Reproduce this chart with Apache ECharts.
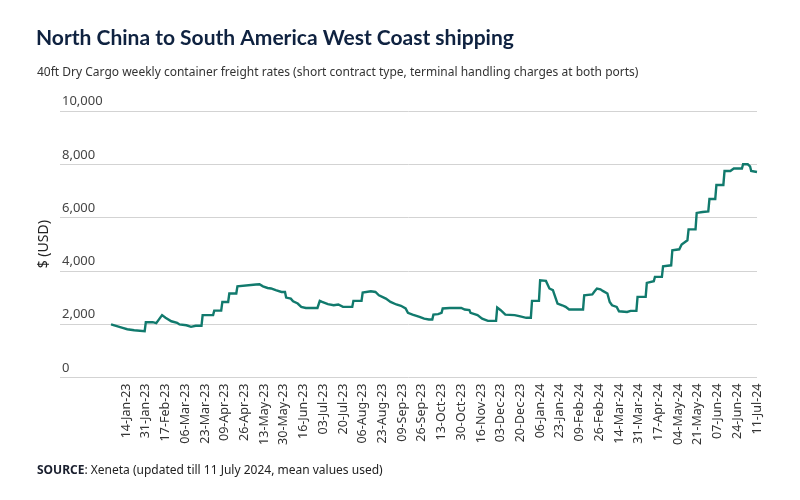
<!DOCTYPE html>
<html>
<head>
<meta charset="utf-8">
<script src="https://cdn.jsdelivr.net/npm/echarts@6/dist/echarts.min.js"></script>
<style>html,body{margin:0;padding:0;background:#fff}#chart{width:800px;height:500px}</style>
</head>
<body>
<div id="chart"></div>
<script>
// Breakpoints of the rate curve (date, USD per 40ft container)
var dates = [
 '2023-01-01','2023-01-11','2023-01-15','2023-01-21','2023-01-30','2023-01-31','2023-02-06','2023-02-09','2023-02-14','2023-02-17',
 '2023-02-22','2023-02-27','2023-03-01','2023-03-07','2023-03-11','2023-03-15','2023-03-20','2023-03-21','2023-03-30','2023-03-31',
 '2023-04-06','2023-04-07','2023-04-12','2023-04-13','2023-04-19','2023-04-20','2023-05-06','2023-05-09','2023-05-12','2023-05-16',
 '2023-05-19','2023-05-23','2023-05-28','2023-05-31','2023-06-01','2023-06-05','2023-06-07','2023-06-11','2023-06-14','2023-06-18',
 '2023-06-28','2023-06-30','2023-07-02','2023-07-07','2023-07-12','2023-07-16','2023-07-20','2023-07-28','2023-07-29','2023-08-05',
 '2023-08-06','2023-08-13','2023-08-17','2023-08-20','2023-08-26','2023-08-30','2023-09-04','2023-09-08','2023-09-12','2023-09-14',
 '2023-09-18','2023-09-24','2023-09-28','2023-10-02','2023-10-05','2023-10-06','2023-10-10','2023-10-13','2023-10-14','2023-10-20',
 '2023-10-30','2023-11-02','2023-11-06','2023-11-07','2023-11-13','2023-11-17','2023-11-22','2023-11-29','2023-11-30','2023-12-03',
 '2023-12-07','2023-12-15','2023-12-19','2023-12-25','2023-12-29','2023-12-30','2024-01-05','2024-01-06','2024-01-11','2024-01-14',
 '2024-01-17','2024-01-21','2024-01-25','2024-01-28','2024-01-31','2024-02-12','2024-02-13','2024-02-20','2024-02-22','2024-02-24',
 '2024-02-27','2024-02-29','2024-03-04','2024-03-06','2024-03-08','2024-03-12','2024-03-14','2024-03-21','2024-03-24','2024-03-29',
 '2024-03-30','2024-04-06','2024-04-07','2024-04-13','2024-04-14','2024-04-20','2024-04-21','2024-04-28','2024-04-29','2024-05-05',
 '2024-05-07','2024-05-12','2024-05-13','2024-05-19','2024-05-20','2024-05-25','2024-05-30','2024-05-31','2024-06-05','2024-06-06',
 '2024-06-12','2024-06-13','2024-06-18','2024-06-21','2024-06-28','2024-06-29','2024-07-03','2024-07-05','2024-07-06','2024-07-11'
];
var rates = [
 1990,1860,1810,1775,1740,2075,2075,2040,2340,2240,
 2110,2050,1990,1960,1900,1940,1940,2340,2340,2510,
 2510,2835,2835,3150,3150,3420,3490,3500,3420,3360,
 3340,3275,3210,3210,3000,2960,2860,2775,2650,2610,
 2610,2875,2835,2750,2710,2740,2650,2650,2875,2875,
 3190,3235,3210,3085,2960,2835,2740,2690,2590,2425,
 2360,2275,2210,2175,2175,2360,2380,2425,2590,2610,
 2610,2550,2530,2425,2340,2210,2125,2125,2625,2525,
 2360,2340,2300,2240,2240,2875,2875,3650,3625,3340,
 3275,2775,2710,2650,2550,2550,3085,3120,3235,3340,
 3310,3250,3150,2835,2710,2650,2485,2460,2500,2500,
 3025,3025,3550,3610,3775,3775,4175,4210,4775,4810,
 4990,5150,5560,5560,6175,6210,6235,6700,6700,7225,
 7225,7750,7750,7840,7840,8000,8000,7925,7750,7710
];
// X-axis tick labels
var tickLabels = [
 '14-Jan-23','31-Jan-23','17-Feb-23','06-Mar-23','23-Mar-23','09-Apr-23','26-Apr-23','13-May-23','30-May-23','16-Jun-23',
 '03-Jul-23','20-Jul-23','06-Aug-23','23-Aug-23','09-Sep-23','26-Sep-23','13-Oct-23','30-Oct-23','16-Nov-23','03-Dec-23',
 '20-Dec-23','06-Jan-24','23-Jan-24','09-Feb-24','26-Feb-24','14-Mar-24','31-Mar-24','17-Apr-24','04-May-24','21-May-24',
 '07-Jun-24','24-Jun-24','11-Jul-24'
];
var yTicks = [0, 2000, 4000, 6000, 8000, 10000];

var MONTHS = ['Jan','Feb','Mar','Apr','May','Jun','Jul','Aug','Sep','Oct','Nov','Dec'];
function parseLabel(s) {
  var p = s.split('-');
  return Date.UTC(2000 + (+p[2]), MONTHS.indexOf(p[1]), +p[0]);
}
var tickValues = tickLabels.map(parseLabel);
var labelByValue = {};
tickValues.forEach(function (v, i) { labelByValue[v] = tickLabels[i]; });

var seriesData = dates.map(function (d, i) { return [Date.parse(d), rates[i]]; });

var chart = echarts.init(document.getElementById('chart'), null, {renderer: 'canvas'});
var FONT = 'Noto Sans';
chart.setOption({
  backgroundColor: '#ffffff',
  animation: false,
  title: [
    {
      text: 'North China to South America West Coast shipping',
      left: 31, top: 23,
      textStyle: {fontFamily: 'Lato', fontWeight: 'bold', fontSize: 21, color: '#0f2240'}
    },
    {
      text: '40ft Dry Cargo weekly container freight rates (short contract type, terminal handling charges at both ports)',
      left: 32, top: 62,
      textStyle: {fontFamily: FONT, fontWeight: 'normal', fontSize: 12, color: '#333333'}
    },
    {
      text: '{b|SOURCE}: Xeneta (updated till 11 July 2024, mean values used)',
      left: 32, top: 460,
      textStyle: {
        fontFamily: FONT, fontWeight: 'normal', fontSize: 12, color: '#222222',
        rich: {b: {fontFamily: FONT, fontWeight: 'bold', fontSize: 12, color: '#1a1f2e'}}
      }
    }
  ],
  grid: {left: 60, right: 43, top: 111, bottom: 122.5, containLabel: false, outerBoundsMode: 'none'},
  xAxis: {
    type: 'value',
    min: Date.UTC(2022, 10, 18),
    max: Date.UTC(2024, 6, 11),
    axisLine: {show: false},
    axisTick: {show: false},
    splitLine: {show: false},
    axisLabel: {
      customValues: tickValues,
      rotate: 90,
      margin: 6,
      fontFamily: FONT,
      fontSize: 12.5,
      color: '#333333',
      hideOverlap: false,
      formatter: function (v) { return labelByValue[v] || ''; }
    }
  },
  yAxis: {
    type: 'value',
    min: 0, max: 10000, interval: 2000,
    name: '$ (USD)',
    nameLocation: 'middle',
    nameRotate: 90,
    nameGap: 8,
    nameTextStyle: {fontFamily: FONT, fontSize: 14, color: '#222222'},
    axisLine: {show: false},
    axisTick: {show: false},
    splitLine: {lineStyle: {color: '#d3d3d3', width: 1}},
    axisLabel: {
      inside: true,
      margin: 2,
      verticalAlign: 'bottom',
      align: 'left',
      padding: [0, 0, 3, 0],
      fontFamily: FONT,
      fontSize: 13,
      color: '#444444',
      formatter: function (v) { return v.toLocaleString('en-US'); }
    }
  },
  series: [{
    type: 'line',
    data: seriesData,
    showSymbol: false,
    symbol: 'none',
    lineStyle: {color: '#117a6d', width: 2.4, join: 'miter'},
    itemStyle: {color: '#117a6d'}
  }]
});
</script>
</body>
</html>
